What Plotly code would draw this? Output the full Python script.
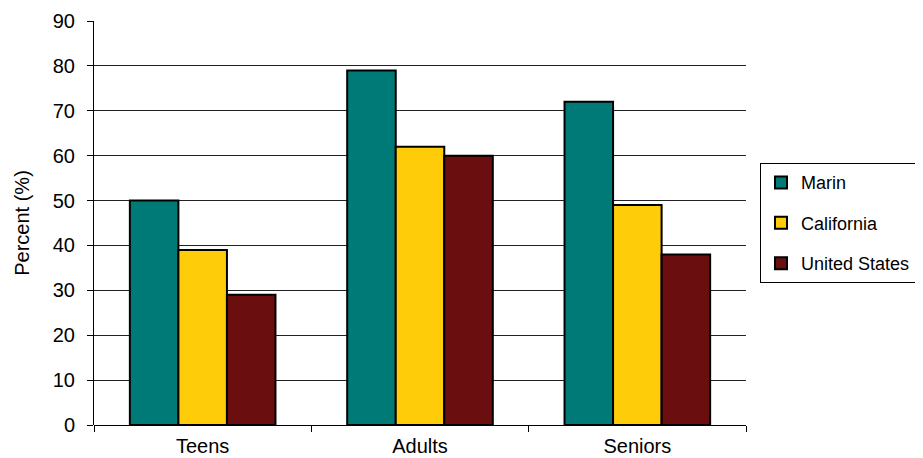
import plotly.graph_objects as go

# Share of people by age group, in percent
groups = ["Teens", "Adults", "Seniors"]
marin = [50, 79, 72]
california = [39, 62, 49]
united_states = [29, 60, 38]

series = [
    ("Marin", marin, "#007A76"),
    ("California", california, "#FFCC0A"),
    ("United States", united_states, "#6B0E0F"),
]

fig = go.Figure()

for i, (name, vals, color) in enumerate(series):
    fig.add_trace(go.Bar(
        x=groups, y=vals, name=name, legendgroup=str(i),
        marker=dict(color=color, line=dict(color="black", width=2)),
    ))

# the page body has an 8px margin, so the figure is made 8px smaller
fig.update_layout(
    width=915, height=450,
    margin=dict(l=86, r=177, t=13, b=33, autoexpand=False),
    paper_bgcolor="white", plot_bgcolor="white",
    font=dict(family="Liberation Sans, Arial, sans-serif", size=20, color="black"),
    barmode="group", bargap=0.33, bargroupgap=0,
    showlegend=True,
    legend=dict(
        x=1.0215, y=0.648, xanchor="left", yanchor="top",
        bordercolor="black", borderwidth=1, bgcolor="white",
        font=dict(size=18), traceorder="grouped", tracegroupgap=14,
        itemwidth=30,
    ),
)

fig.update_xaxes(
    automargin=False,
    showline=False, showgrid=False,
    ticks="outside", tickson="boundaries", ticklen=6, tickcolor="black",
    tickfont=dict(size=20), ticklabelstandoff=7,
)
fig.update_yaxes(
    automargin=False,
    range=[0, 90], dtick=10,
    showline=True, linecolor="black", linewidth=1,
    showgrid=True, gridcolor="#222222", gridwidth=1,
    ticks="outside", ticklen=6, tickcolor="black",
    tickfont=dict(size=20), ticklabelstandoff=8,
    title=dict(text="Percent (%)", font=dict(size=20), standoff=17),
    zeroline=True, zerolinecolor="black", zerolinewidth=1,
)

fig.write_html("out.html")
